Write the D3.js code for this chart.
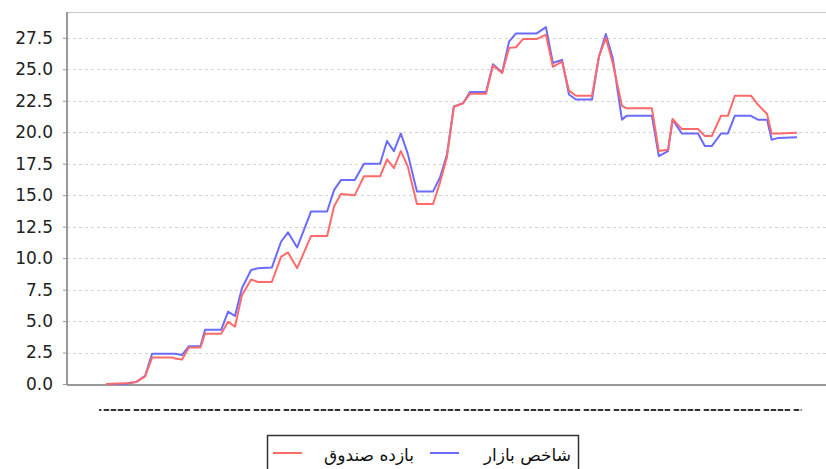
<!DOCTYPE html>
<html>
<head>
<meta charset="utf-8">
<script src="https://cdn.jsdelivr.net/npm/d3@7"></script>
<style>
  body { margin: 0; background: #fff; }
  svg { display: block; }
</style>
</head>
<body>
<div id="chart"></div>
<script>
// trading day index of each point
var days = [0, 8, 13, 17, 20, 29, 30, 33, 36, 41, 43, 50, 53, 56, 59, 63, 66, 72, 76, 79,
	83, 89, 96, 99, 102, 108, 112, 119, 122, 125, 128, 131, 135, 142, 145, 148, 151, 155, 158, 165,
	168, 172, 175, 178, 181, 187, 191, 194, 198, 201, 204, 211, 214, 217, 220, 224, 226, 237, 240, 244,
	246, 250, 257, 260, 263, 267, 270, 273, 280, 283, 287, 289, 292, 300];

// market index (blue)
var marketIndex = [0, 0, 0.15, 0.65, 2.4, 2.4, 2.4, 2.3, 3.0, 3.0, 4.3, 4.3, 5.75, 5.4, 7.6, 9.05, 9.2, 9.25, 11.3, 12.05,
	10.85, 13.7, 13.7, 15.4, 16.2, 16.2, 17.5, 17.5, 19.3, 18.5, 19.9, 18.3, 15.3, 15.3, 16.4, 18.2, 22.05, 22.3, 23.2, 23.2,
	25.4, 24.75, 27.2, 27.85, 27.85, 27.85, 28.35, 25.5, 25.75, 23.0, 22.6, 22.6, 26.0, 27.8, 25.9, 21.0, 21.3, 21.3, 18.1, 18.5,
	21.0, 19.9, 19.9, 18.9, 18.9, 19.9, 19.9, 21.3, 21.3, 21.0, 21.0, 19.4, 19.55, 19.6];

// fund return (red)
var fundReturn = [0, 0.05, 0.15, 0.6, 2.1, 2.1, 2.02, 1.95, 2.9, 2.9, 4.0, 4.0, 4.95, 4.55, 7.05, 8.3, 8.1, 8.1, 10.1, 10.45,
	9.2, 11.75, 11.75, 14.1, 15.1, 15.0, 16.5, 16.5, 17.85, 17.15, 18.5, 17.3, 14.3, 14.3, 16.0, 18.0, 22.0, 22.3, 23.05, 23.05,
	25.3, 24.7, 26.7, 26.75, 27.4, 27.4, 27.75, 25.2, 25.6, 23.3, 22.9, 22.9, 26.0, 27.5, 25.5, 22.1, 21.9, 21.9, 18.5, 18.6,
	21.05, 20.25, 20.25, 19.7, 19.7, 21.3, 21.3, 22.9, 22.9, 22.2, 21.45, 19.9, 19.9, 19.95];

var yTicks = [0, 2.5, 5, 7.5, 10, 12.5, 15, 17.5, 20, 22.5, 25, 27.5];
var seriesNames = ["شاخص بازار", "بازده صندوق"];
var seriesColors = ["#6b6bff", "#ff6b6b"];

var W = 826, H = 469;
var plot = {left: 67, top: 12, right: 826, bottom: 385};

var svg = d3.select("#chart")
	.append("svg")
	.attr("width", W)
	.attr("height", H);

var x = d3.scaleLinear()
	.domain([0, 300])
	.range([106, 797]);

var y = d3.scaleLinear()
	.domain([0, 29.55])
	.range([384, plot.top]);

// grid
svg.append("g")
	.selectAll("line")
	.data(yTicks.slice(1))
	.enter()
	.append("line")
	.attr("x1", plot.left)
	.attr("x2", plot.right)
	.attr("y1", d => Math.round(y(d)) + 0.5)
	.attr("y2", d => Math.round(y(d)) + 0.5)
	.attr("stroke", "#d4d4d4")
	.attr("stroke-dasharray", "3,3");

// top border
svg.append("line")
	.attr("x1", plot.left).attr("x2", plot.right)
	.attr("y1", plot.top + 0.5).attr("y2", plot.top + 0.5)
	.attr("stroke", "#c8c8c8");

// y axis
var yAxis = svg.append("g")
	.attr("transform", "translate(" + plot.left + ",0)")
	.call(d3.axisLeft(y)
		.tickValues(yTicks)
		.tickFormat(d3.format(".1f"))
		.tickSize(4)
		.tickPadding(10));
yAxis.select(".domain").remove();
yAxis.selectAll(".tick line").attr("stroke", "#999");
yAxis.selectAll("text")
	.attr("font-family", "DejaVu Sans")
	.attr("font-size", "17px")
	.attr("fill", "#222");

svg.append("line")
	.attr("x1", plot.left).attr("x2", plot.left)
	.attr("y1", plot.top).attr("y2", plot.bottom)
	.attr("stroke", "#999")
	.attr("stroke-width", 2);

// bottom axis line
svg.append("line")
	.attr("x1", plot.left).attr("x2", plot.right)
	.attr("y1", plot.bottom).attr("y2", plot.bottom)
	.attr("stroke", "#999")
	.attr("stroke-width", 2);

// lines
var line = d3.line()
	.x((d, i) => x(days[i]))
	.y(d => y(d));

[marketIndex, fundReturn].forEach(function(vals, k) {
	svg.append("path")
		.datum(vals)
		.attr("d", line)
		.attr("fill", "none")
		.attr("stroke", seriesColors[k])
		.attr("stroke-width", 2)
		.attr("stroke-linejoin", "round");
});

// dotted x label strip
svg.append("line")
	.attr("x1", x(-3)).attr("x2", x(-2))
	.attr("y1", 410).attr("y2", 410)
	.attr("stroke", "#333")
	.attr("stroke-width", 2);
svg.append("line")
	.attr("x1", x(-1)).attr("x2", x(302))
	.attr("y1", 410).attr("y2", 410)
	.attr("stroke", "#333")
	.attr("stroke-width", 2)
	.attr("stroke-dasharray", "5.5,1.5,5.5,1.5,5.5,1.5,5.5,3.5");

// legend
var legend = svg.append("g");
legend.append("rect")
	.attr("x", 267.5).attr("y", 435.5)
	.attr("width", 311).attr("height", 40)
	.attr("fill", "#fff")
	.attr("stroke", "#333")
	.attr("stroke-width", 1.5);

var legendItems = [
	{name: seriesNames[0], color: seriesColors[0], x0: 430, textEnd: 571},
	{name: seriesNames[1], color: seriesColors[1], x0: 273, textEnd: 414}
];
legendItems.forEach(function(it) {
	legend.append("line")
		.attr("x1", it.x0).attr("x2", it.x0 + 29)
		.attr("y1", 453).attr("y2", 453)
		.attr("stroke", it.color)
		.attr("stroke-width", 2);
	legend.append("text")
		.attr("x", it.textEnd)
		.attr("y", 461)
		.attr("text-anchor", "end")
		.attr("font-family", "DejaVu Sans")
		.attr("font-size", "17px")
		.attr("fill", "#111")
		.text(it.name);
});
</script>
</body>
</html>
